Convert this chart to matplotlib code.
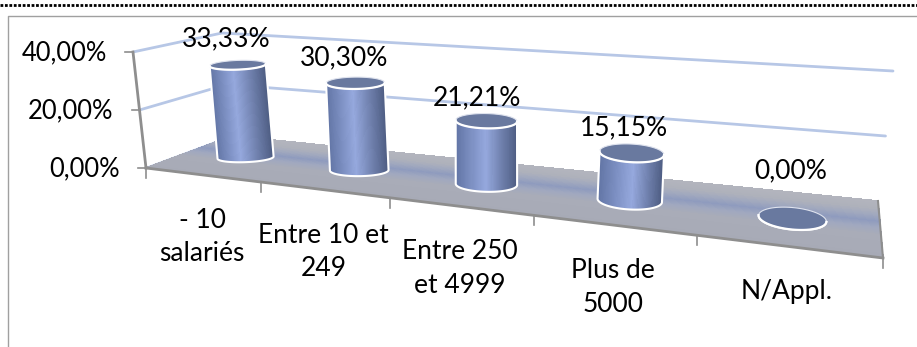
import numpy as np
import matplotlib
matplotlib.use("Agg")
import matplotlib.pyplot as plt
from matplotlib.collections import PolyCollection
from matplotlib.colors import LinearSegmentedColormap
from matplotlib.patches import Polygon

plt.rcParams["font.family"] = ["Lato", "DejaVu Sans"]

# Data
categories = ["- 10\nsalariés", "Entre 10 et\n249", "Entre 250\net 4999", "Plus de\n5000", "N/Appl."]
values = [33.33, 30.30, 21.21, 15.15, 0.00]
value_labels = ["33,33%", "30,30%", "21,21%", "15,15%", "0,00%"]
axis_ticks = [0, 20, 40]
axis_tick_labels = ["0,00%", "20,00%", "40,00%"]
axis_max = 40

# 3D box of the chart, in pixels of the picture
FLOOR = {"fl": (146, 168), "fr": (883, 258), "bl": (232, 136), "br": (878, 201)}
TOP = {"fl": (133, 52), "fr": (898, 120), "bl": (222, 33), "br": (893, 71)}
PERSPECTIVE = 1.35
CYL_DEPTH = 0.525

TEXT_SIZE = 19
TICK_SIZE = 18.4
GRID = "#b7c7e6"
AXIS = "#8e8e8e"


def warp(u):
    return u / (PERSPECTIVE - (PERSPECTIVE - 1) * u)


def corner_mix(c, w, d):
    front = (1 - w) * np.array(c["fl"], float) + w * np.array(c["fr"], float)
    back = (1 - w) * np.array(c["bl"], float) + w * np.array(c["br"], float)
    return (1 - d) * front + d * back


def project(u, d, v):
    """category position u (0-1), depth d (0-1), value v -> pixel position"""
    w = warp(u)
    low = corner_mix(FLOOR, w, d)
    high = corner_mix(TOP, w, d)
    return low + (high - low) * v / axis_max


def ellipse(center, rx, ry, tilt, t):
    a = np.radians(tilt)
    x = center[0] + rx * np.cos(t) * np.cos(a) - ry * np.sin(t) * np.sin(a)
    y = center[1] + rx * np.cos(t) * np.sin(a) + ry * np.sin(t) * np.cos(a)
    return np.column_stack([x, y])


def draw_walls(ax):
    for v in axis_ticks[1:]:
        pts = [project(0, 0, v), project(0, 1, v), project(1, 1, v)]
        ax.plot(*zip(*pts), color=GRID, lw=2, zorder=1, solid_capstyle="round")
    pts = [project(0, 0, 0), project(0, 1, 0)]
    ax.plot(*zip(*pts), color=GRID, lw=1.5, zorder=1)


def draw_floor(ax):
    stops = [(0.0, "#a7aab6"), (0.42, "#a9acb8"), (0.55, "#a0a8bf"), (0.66, "#8f9bbe"),
             (0.78, "#a2a9be"), (0.88, "#aeb1bb"), (1.0, "#b2b4bd")]
    cmap = LinearSegmentedColormap.from_list("floor", stops)
    depth = np.linspace(0, 1, 61)
    polys, cols = [], []
    for d0, d1 in zip(depth[:-1], depth[1:]):
        polys.append([project(0, d0, 0), project(1, d0, 0), project(1, d1, 0), project(0, d1, 0)])
        cols.append(cmap((d0 + d1) / 2))
    ax.add_collection(PolyCollection(polys, facecolors=cols, edgecolors=cols, linewidths=0.5,
                                     antialiaseds=False, zorder=2))


def draw_axes(ax):
    # value axis and its ticks
    pts = [project(0, 0, 0), project(0, 0, axis_max)]
    ax.plot(*zip(*pts), color=AXIS, lw=2, zorder=3)
    for v, lab in zip(axis_ticks, axis_tick_labels):
        p = project(0, 0, v)
        ax.plot([p[0] - 8, p[0]], [p[1], p[1]], color=AXIS, lw=1.2, zorder=3)
        ax.text(p[0] - 26, p[1] + 1, lab, ha="right", va="center", fontsize=TICK_SIZE, color="black", zorder=6)

    # category axis and its ticks
    pts = [project(0, 0, 0), project(1, 0, 0)]
    ax.plot(*zip(*pts), color=AXIS, lw=2, zorder=3)
    pts = [project(1, 0, 0), project(1, 1, 0)]
    ax.plot(*zip(*pts), color=AXIS, lw=1.5, zorder=3)
    n = len(categories)
    for i in range(n + 1):
        p = project(i / n, 0, 0)
        ax.plot([p[0], p[0]], [p[1], p[1] + 10], color=AXIS, lw=1.2, zorder=3)

    for i, lab in enumerate(categories):
        p = project((i + 0.5) / n, 0, 0)
        ax.text(p[0], p[1] + 33, lab, ha="center", va="top", fontsize=TEXT_SIZE,
                linespacing=1.43, color="black", zorder=6)


def draw_cylinder(ax, i, value):
    u = (i + 0.5) / len(categories)
    w = warp(u)
    base = project(u, CYL_DEPTH, 0) + np.array([2, 0.5])
    top = project(u, CYL_DEPTH, value) + np.array([2, 0.5])
    rx = 27.5 + 7.5 * w
    ry = 4 + 8 * w
    tilt = -3 + 10 * w

    peak = 0.42 + 0.2 * w
    cmap = LinearSegmentedColormap.from_list(
        "body", [(0, "#6073a3"), (peak, "#95a8dd"), (1, "#4f5e84")])

    t = np.linspace(np.pi, 0, 81)
    low = ellipse(base, rx, ry, tilt, t)
    high = ellipse(top, rx, ry, tilt, t)
    polys, cols = [], []
    for k in range(len(t) - 1):
        polys.append([low[k], low[k + 1], high[k + 1], high[k]])
        cols.append(cmap((1 + np.cos((t[k] + t[k + 1]) / 2)) / 2))
    z = 4 + i * 0.1
    body = PolyCollection(polys, facecolors=cols, edgecolors=cols, linewidths=0.6,
                          antialiaseds=False, zorder=z)
    ax.add_collection(body)

    outline = np.vstack([high[:1], low, high[-1:]])
    shape = np.vstack([low, high[::-1]])
    body.set_clip_path(Polygon(shape, transform=ax.transData))
    ax.plot(outline[:, 0], outline[:, 1], color="white", lw=1.5, zorder=z + 0.01)

    cap = ellipse(top, rx, ry, tilt, np.linspace(0, 2 * np.pi, 121))
    ax.fill(cap[:, 0], cap[:, 1], color="#69799f", lw=0, zorder=z + 0.02)
    ax.plot(cap[:, 0], cap[:, 1], color="#dfe3ee", lw=0.8, zorder=z + 0.03)
    front = ellipse(top, rx, ry, tilt, t)
    ax.plot(front[:, 0], front[:, 1], color="white", lw=1.6, zorder=z + 0.04)
    return top


def main():
    fig = plt.figure(figsize=(9.17, 3.47), dpi=100)
    ax = fig.add_axes([0, 0, 1, 1])
    ax.set_xlim(0, 917)
    ax.set_ylim(347, 0)
    ax.axis("off")

    # page rule and chart border
    ax.plot([0, 917], [5, 5], color="black", lw=2, ls=(0, (1, 0.6)), zorder=1)
    ax.plot([7.5, 7.5, 917], [347, 15.5, 15.5], color="#a0a0a0", lw=1, zorder=1)

    draw_walls(ax)
    draw_floor(ax)
    draw_axes(ax)

    label_dx = [-12, -11.5, -9.7, -8, -2]
    label_dy = [-26, -25, -23, -25, -48]
    for i, value in enumerate(values):
        top = draw_cylinder(ax, i, value)
        ax.text(top[0] + label_dx[i], top[1] + label_dy[i], value_labels[i], ha="center", va="center",
                fontsize=TEXT_SIZE, color="black", zorder=7)

    fig.savefig("out.png", dpi=100)
    plt.close(fig)


if __name__ == "__main__":
    main()
